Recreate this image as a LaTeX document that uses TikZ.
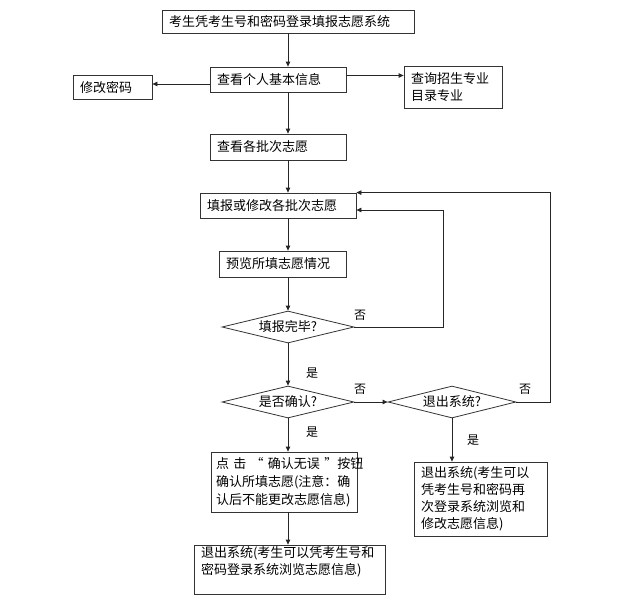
\documentclass[tikz,border=0pt]{standalone}
\usepackage{fontspec}
\setmainfont{Noto Sans CJK SC}
\usetikzlibrary{arrows.meta,shapes.geometric}

\begin{document}
\begin{tikzpicture}[x=1pt,y=-1pt,
  box/.style={draw=black!80,line width=0.8pt,rectangle,inner xsep=7pt,inner ysep=0pt,
    align=left,font=\fontsize{13pt}{17pt}\selectfont},
  cond/.style={draw=black!80,line width=0.8pt,diamond,inner sep=0pt,aspect=4.1,
    font=\fontsize{13pt}{17pt}\selectfont},
  arr/.style={draw=black!85,line width=0.8pt,-{Triangle[length=5pt,width=4.5pt]}},
  lbl/.style={font=\fontsize{12pt}{14pt}\selectfont}]
  \useasboundingbox (0,0) rectangle (619,611);

  % casete
  \node[box,text width=238pt,minimum height=23pt] (start) at (288,21.5) {考生凭考生号和密码登录填报志愿系统};
  \node[box,text width=122pt,minimum height=25pt] (info) at (278,79.5) {查看个人基本信息};
  \node[box,text width=65pt,minimum height=24pt] (pwd) at (112.5,87.5) {修改密码};
  \node[box,text width=84pt,minimum height=42pt] (major) at (453,87.5) {查询招生专业\\目录专业};
  \node[box,text width=122pt,minimum height=26pt] (batch) at (278,147) {查看各批次志愿};
  \node[box,text width=142pt,minimum height=25pt] (fill) at (278,205.5) {填报或修改各批次志愿};
  \node[box,text width=113pt,minimum height=26pt] (preview) at (282.5,264) {预览所填志愿情况};
  \node[box,text width=136pt,inner xsep=5pt,minimum height=60pt,
    font=\fontsize{13pt}{18pt}\selectfont] (ok) at (284,482)
    {\makebox[\linewidth][s]{点 击 “ 确认无误 ”按钮}\\确认所填志愿(注意：确\\认后不能更改志愿信息)};
  \node[box,text width=177pt,minimum height=49pt] (exita) at (289.5,569.5)
    {退出系统(考生可以凭考生号和\\密码登录系统浏览志愿信息)\\\mbox{}};
  \node[box,text width=119pt,minimum height=74pt] (exitb) at (480.5,499)
    {退出系统(考生可以\\凭考生号和密码再\\次登录系统浏览和\\修改志愿信息)};

  % romburi
  \node[cond,minimum width=132pt,minimum height=32pt] (done) at (288,327) {填报完毕?};
  \node[cond,minimum width=132pt,minimum height=32pt] (confirm) at (288,402) {是否确认?};
  \node[cond,minimum width=128pt,minimum height=32pt] (quit) at (452,402) {退出系统?};

  % săgeți verticale
  \draw[arr] (start.south) -- (start.south |- info.north);
  \draw[arr] (info.south -| start) -- (batch.north -| start);
  \draw[arr] (batch.south -| start) -- (fill.north -| start);
  \draw[arr] (fill.south -| start) -- (preview.north -| start);
  \draw[arr] (preview.south -| start) -- (done.north);
  \draw[arr] (done.south) -- (confirm.north);
  \draw[arr] (confirm.south) -- (ok.north -| confirm);
  \draw[arr] (ok.south -| confirm) -- (exita.north -| confirm);
  \draw[arr] (quit.south) -- (quit.south |- exitb.north);
  \draw[arr] (confirm.east) -- (quit.west);

  % săgeți laterale
  \coordinate (pl) at ([yshift=-4.5pt]info.west);
  \coordinate (pr) at ([yshift=4pt]info.east);
  \draw[arr] (pl) -- (pl -| pwd.east);
  \draw[arr] (pr) -- (pr -| major.west);

  % bucle înapoi
  \draw[arr] (done.east) -- ++(89,0) |- ([yshift=-4.5pt]fill.east);
  \draw[arr] (quit.east) -- ++(34,0) |- (fill.north east);

  % etichete
  \node[lbl] (nodone) at (360,315) {否};
  \node[lbl] (yesdone) at (312,373) {是};
  \node[lbl] (noconf) at (360,389) {否};
  \node[lbl] (noquit) at (525,389) {否};
  \node[lbl] (yesconf) at (312,432) {是};
  \node[lbl] (yesquit) at (473,440) {是};
\end{tikzpicture}
\end{document}
